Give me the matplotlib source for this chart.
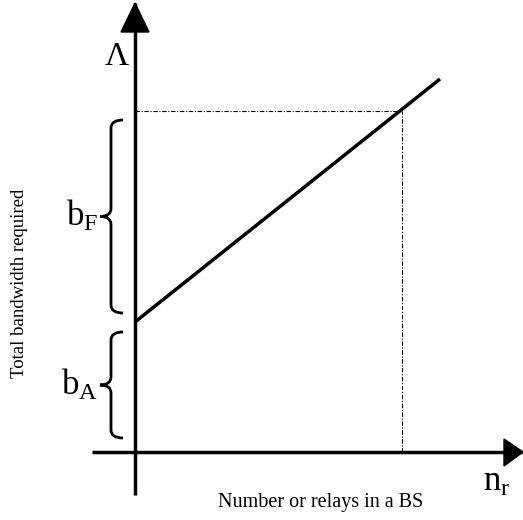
import matplotlib
matplotlib.use("Agg")
import matplotlib.pyplot as plt
from matplotlib.path import Path
from matplotlib.patches import PathPatch
import numpy as np

plt.rcParams["font.family"] = ["Liberation Serif", "DejaVu Serif"]
plt.rcParams["mathtext.fontset"] = "custom"
plt.rcParams["mathtext.rm"] = "Liberation Serif"
plt.rcParams["mathtext.it"] = "Liberation Serif"

# schematic values (units roughly in pixels from the axis origin)
line_x = [0, 305]
line_y = [130, 373]
mark_x = 267
mark_y = 341
brace_a = (14, 120)
brace_f = (139, 332)
x_axis = (-43, 388)
y_axis = (-43, 449)


def brace(ax, y0, y1, x=-24, w=12, tip=11):
    ym = (y0 + y1) / 2
    verts = [
        (x + w, y0), (x, y0), (x, y0 + 8),
        (x, ym - 8),
        (x, ym), (x - tip, ym),
        (x, ym), (x, ym + 8),
        (x, y1 - 8),
        (x, y1), (x + w, y1),
    ]
    codes = [Path.MOVETO, Path.CURVE3, Path.CURVE3,
             Path.LINETO,
             Path.CURVE3, Path.CURVE3,
             Path.CURVE3, Path.CURVE3,
             Path.LINETO,
             Path.CURVE3, Path.CURVE3]
    ax.add_patch(PathPatch(Path(verts, codes), fill=False, lw=2, color="black",
                           capstyle="butt"))


fig = plt.figure(figsize=(5.23, 5.20), dpi=100)
ax = fig.add_axes([0, 0, 1, 1])
ax.set_xlim(-135, 388)
ax.set_ylim(-68, 452)
ax.axis("off")

# axes with arrowheads
ax.plot(x_axis, [0, 0], color="black", lw=2.5, solid_capstyle="butt")
ax.plot([0, 0], y_axis, color="black", lw=2.5, solid_capstyle="butt")
ax.fill([x_axis[1], x_axis[1] - 19, x_axis[1] - 19], [0, 13, -14], color="black")
ax.fill([0, -14, 14], [y_axis[1], y_axis[1] - 29, y_axis[1] - 29], color="black")

# dash-dot guides
ax.plot([0, mark_x], [mark_y, mark_y], color="black", lw=0.8, ls="-.", dashes=(4, 1.5, 1, 1.5))
ax.plot([mark_x, mark_x], [0, mark_y], color="black", lw=0.8, ls="-.", dashes=(4, 1.5, 1, 1.5))

# main line
ax.plot(line_x, line_y, color="black", lw=2.5, solid_capstyle="butt")

brace(ax, *brace_a)
brace(ax, *brace_f)

ax.text(-18, 395, "Λ", fontsize=24, ha="center", va="center")
ax.text(-37, 67, r"$\mathrm{b}_\mathrm{A}$", fontsize=25, ha="right", va="center")
ax.text(-37, 236, r"$\mathrm{b}_\mathrm{F}$", fontsize=25, ha="right", va="center")
ax.text(362, -30, r"$\mathrm{n}_\mathrm{r}$", fontsize=25, ha="center", va="center")
ax.text(186, -51, "Number or relays in a BS", fontsize=14.5, ha="center", va="center")
ax.text(-115, 169, "Total bandwidth required", fontsize=13.5, ha="center", va="center",
        rotation=90)

fig.savefig("out.png", dpi=100)
